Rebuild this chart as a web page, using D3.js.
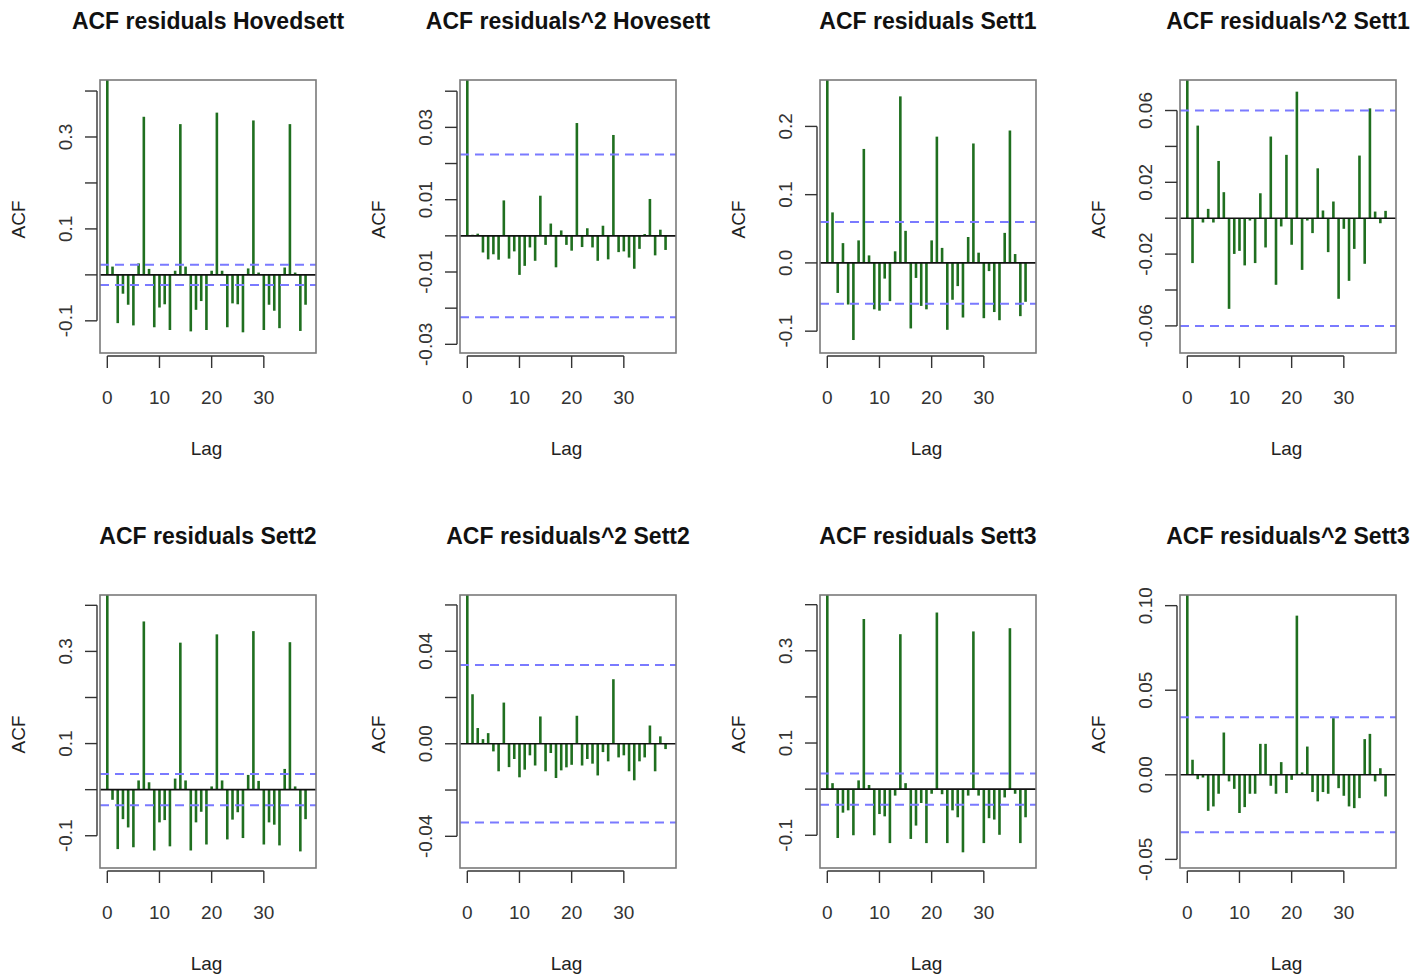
<!DOCTYPE html>
<html>
<head>
<meta charset="utf-8">
<script src="https://cdn.jsdelivr.net/npm/d3@7/dist/d3.min.js"></script>
<style>
  html, body { margin: 0; padding: 0; background: #fff; }
  svg { display: block; }
  text { font-family: "Liberation Sans", Arial, Helvetica, sans-serif; }
</style>
</head>
<body>
<svg id="chart" width="1426" height="977"></svg>
<script>
// ---- Panel titles ----------------------------------------------------------
const titles = [
  "ACF residuals Hovedsett", "ACF residuals^2 Hovesett",
  "ACF residuals Sett1",     "ACF residuals^2 Sett1",
  "ACF residuals Sett2",     "ACF residuals^2 Sett2",
  "ACF residuals Sett3",     "ACF residuals^2 Sett3"
];

// ---- Autocorrelations, lag 0 .. 38 ----------------------------------------
const acfResHovedsett = [1, 0.018, -0.105, -0.041, -0.065, -0.110, 0.025, 0.344, 0.013, -0.114,
  -0.071, -0.064, -0.120, 0.009, 0.328, 0.018, -0.123, -0.076, -0.057, -0.120,
  0.009, 0.353, 0.009, -0.114, -0.062, -0.064, -0.125, 0.014, 0.336, 0.005,
  -0.120, -0.065, -0.078, -0.116, 0.016, 0.328, 0.005, -0.122, -0.065];

const acfSqHovedsett = [1, 0.0003, 0.0006, -0.0046, -0.0065, -0.0051, -0.0066, 0.0098, -0.0063, -0.0043,
  -0.0108, -0.0083, -0.0032, -0.0069, 0.0111, -0.0025, 0.0034, -0.0087, 0.0015, -0.0025,
  -0.0041, 0.0312, -0.0031, 0.0021, -0.0032, -0.0069, 0.0028, -0.0065, 0.0279, -0.0045,
  -0.0043, -0.0060, -0.0091, -0.0036, 0.0005, 0.0102, -0.0054, 0.0017, -0.0039];

const acfResSett1 = [1, 0.074, -0.044, 0.029, -0.061, -0.113, 0.033, 0.167, 0.011, -0.068,
  -0.070, -0.023, -0.056, 0.017, 0.244, 0.047, -0.096, -0.022, -0.063, -0.068,
  0.033, 0.185, 0.022, -0.098, -0.054, -0.034, -0.080, 0.038, 0.175, 0.015,
  -0.081, -0.012, -0.072, -0.084, 0.044, 0.194, 0.013, -0.078, -0.057];

const acfSqSett1 = [1, -0.0250, 0.0516, -0.0024, 0.0052, -0.0024, 0.0319, 0.0145, -0.0505, -0.0199,
  -0.0182, -0.0263, -0.0013, -0.0250, 0.0139, -0.0163, 0.0455, -0.0371, -0.0046, 0.0353,
  -0.0148, 0.0705, -0.0288, -0.0013, -0.0083, 0.0278, 0.0043, -0.0189, 0.0093, -0.0449,
  -0.0059, -0.0349, -0.0171, 0.0349, -0.0254, 0.0612, 0.0037, -0.0028, 0.0041];

const acfResSett2 = [1, -0.022, -0.129, -0.064, -0.082, -0.125, 0.020, 0.365, 0.016, -0.132,
  -0.071, -0.066, -0.123, 0.024, 0.319, 0.020, -0.132, -0.071, -0.048, -0.119,
  0.007, 0.337, 0.020, -0.108, -0.065, -0.049, -0.105, 0.032, 0.344, 0.019,
  -0.119, -0.071, -0.076, -0.121, 0.045, 0.320, 0.007, -0.134, -0.064];

const acfSqSett2 = [1, 0.0214, 0.0068, 0.0020, 0.0046, -0.0033, -0.0119, 0.0178, -0.0101, -0.0066,
  -0.0145, -0.0112, -0.0050, -0.0094, 0.0118, -0.0119, -0.0040, -0.0148, -0.0115, -0.0102,
  -0.0091, 0.0121, -0.0094, -0.0066, -0.0086, -0.0137, -0.0036, -0.0076, 0.0279, -0.0059,
  -0.0050, -0.0119, -0.0158, -0.0076, -0.0059, 0.0079, -0.0119, 0.0032, -0.0023];

const acfResSett3 = [1, 0.013, -0.106, -0.051, -0.046, -0.100, 0.019, 0.369, 0.009, -0.100,
  -0.054, -0.059, -0.117, -0.014, 0.336, 0.013, -0.108, -0.079, -0.030, -0.117,
  -0.010, 0.383, -0.011, -0.117, -0.046, -0.061, -0.137, -0.014, 0.342, -0.014,
  -0.117, -0.063, -0.066, -0.099, -0.018, 0.349, -0.010, -0.117, -0.061];

const acfSqSett3 = [1, 0.0089, -0.0026, -0.0016, -0.0213, -0.0187, -0.0112, 0.0250, -0.0039, -0.0083,
  -0.0226, -0.0191, -0.0112, -0.0112, 0.0183, 0.0183, -0.0065, -0.0112, 0.0075, -0.0108,
  -0.0030, 0.0941, 0.0014, 0.0167, -0.0102, -0.0157, -0.0102, -0.0112, 0.0335, -0.0079,
  -0.0124, -0.0187, -0.0197, -0.0138, 0.0211, 0.0242, -0.0039, 0.0039, -0.0128];

// ---- 95% confidence bounds (+/-) -----------------------------------------
const ciBounds = [0.022, 0.0225, 0.060, 0.060, 0.034, 0.034, 0.034, 0.034];

// ---- Axis ticks --------------------------------------------------------------
const lagTicks = [0, 10, 20, 30];
const yTicksRes  = [-0.1, 0.0, 0.1, 0.2, 0.3, 0.4];
const yLabelsRes = ["-0.1", "", "0.1", "", "0.3", ""];
const yTicksSqH  = [-0.03, -0.02, -0.01, 0.0, 0.01, 0.02, 0.03, 0.04];
const yLabelsSqH = ["-0.03", "", "-0.01", "", "0.01", "", "0.03", ""];
const yTicksS1   = [-0.1, 0.0, 0.1, 0.2];
const yLabelsS1  = ["-0.1", "0.0", "0.1", "0.2"];
const yTicksSq1  = [-0.06, -0.04, -0.02, 0.0, 0.02, 0.04, 0.06];
const yLabelsSq1 = ["-0.06", "", "-0.02", "", "0.02", "", "0.06"];
const yTicksSq2  = [-0.04, -0.02, 0.0, 0.02, 0.04, 0.06];
const yLabelsSq2 = ["-0.04", "", "0.00", "", "0.04", ""];
const yTicksSq3  = [-0.05, 0.0, 0.05, 0.10];
const yLabelsSq3 = ["-0.05", "0.00", "0.05", "0.10"];

// ---- Vertical plotting limits per panel --------------------------------------
const yLimits = [
  [-0.170, 0.424], [-0.0324, 0.0431], [-0.132, 0.268], [-0.0751, 0.077],
  [-0.170, 0.4224], [-0.0537, 0.0643], [-0.171, 0.421], [-0.0551, 0.1063]
];

const series = [acfResHovedsett, acfSqHovedsett, acfResSett1, acfSqSett1,
                acfResSett2, acfSqSett2, acfResSett3, acfSqSett3];
const yTickSets  = [yTicksRes, yTicksSqH, yTicksS1, yTicksSq1, yTicksRes, yTicksSq2, yTicksRes, yTicksSq3];
const yLabelSets = [yLabelsRes, yLabelsSqH, yLabelsS1, yLabelsSq1, yLabelsRes, yLabelsSq2, yLabelsRes, yLabelsSq3];

// ---- Layout --------------------------------------------------------------------
const svg = d3.select("#chart");
const colLeft = [100, 460, 820, 1180];
const rowTop = [80, 595];
const boxW = 216, boxH = 273;
const barColor = "#1f6f1f";
const ciColor = "#7a7aff";
const fontSize = 19;

series.forEach((vals, i) => {
  const col = i % 4, row = Math.floor(i / 4);
  const x0 = colLeft[col], y0 = rowTop[row];
  const g = svg.append("g").attr("transform", `translate(${x0},${y0})`);

  const x = d3.scaleLinear().domain([-1.4, 40]).range([0, boxW]);
  const y = d3.scaleLinear().domain(yLimits[i]).range([boxH, 0]);

  const clipId = "clip" + i;
  g.append("clipPath").attr("id", clipId)
    .append("rect").attr("x", 0).attr("y", 0).attr("width", boxW).attr("height", boxH);

  const plot = g.append("g").attr("clip-path", `url(#${clipId})`);

  // spikes
  plot.selectAll("line.bar").data(vals).join("line")
    .attr("class", "bar")
    .attr("x1", (d, k) => x(k)).attr("x2", (d, k) => x(k))
    .attr("y1", y(0)).attr("y2", d => y(d))
    .attr("stroke", barColor).attr("stroke-width", 2.6);

  // zero line
  plot.append("line")
    .attr("x1", 0).attr("x2", boxW).attr("y1", y(0)).attr("y2", y(0))
    .attr("stroke", "#111").attr("stroke-width", 1.6);

  // confidence bounds
  [ciBounds[i], -ciBounds[i]].forEach(c => {
    plot.append("line")
      .attr("x1", 0).attr("x2", boxW).attr("y1", y(c)).attr("y2", y(c))
      .attr("stroke", ciColor).attr("stroke-width", 2)
      .attr("stroke-dasharray", "9,6");
  });

  // frame
  g.append("rect").attr("x", 0).attr("y", 0).attr("width", boxW).attr("height", boxH)
    .attr("fill", "none").attr("stroke", "#7a7a7a").attr("stroke-width", 1.6);

  // x axis
  const xa = g.append("g").attr("transform", `translate(0,${boxH + 3})`);
  xa.append("line").attr("x1", x(lagTicks[0])).attr("x2", x(lagTicks[lagTicks.length - 1]))
    .attr("stroke", "#333").attr("stroke-width", 1.4);
  lagTicks.forEach(t => {
    xa.append("line").attr("x1", x(t)).attr("x2", x(t)).attr("y1", 0).attr("y2", 12)
      .attr("stroke", "#333").attr("stroke-width", 1.4);
    xa.append("text").attr("x", x(t)).attr("y", 41).attr("dy", "0.35em")
      .attr("text-anchor", "middle").attr("font-size", fontSize).attr("fill", "#333")
      .text(t);
  });
  g.append("text").attr("x", x(lagTicks[0]) + (x(lagTicks[lagTicks.length-1]) - x(lagTicks[0])) / 2 + 21)
    .attr("y", boxH + 95).attr("dy", "0.35em")
    .attr("text-anchor", "middle").attr("font-size", fontSize).attr("fill", "#222")
    .text("Lag");

  // y axis
  const ticks = yTickSets[i], labels = yLabelSets[i];
  const ya = g.append("g").attr("transform", "translate(-3,0)");
  ya.append("line").attr("y1", y(ticks[0])).attr("y2", y(ticks[ticks.length - 1]))
    .attr("stroke", "#333").attr("stroke-width", 1.4);
  ticks.forEach((t, k) => {
    ya.append("line").attr("x1", 0).attr("x2", -12).attr("y1", y(t)).attr("y2", y(t))
      .attr("stroke", "#333").attr("stroke-width", 1.4);
    if (labels[k]) {
      ya.append("text")
        .attr("transform", `translate(-32,${y(t)}) rotate(-90)`)
        .attr("dy", "0.35em").attr("text-anchor", "middle")
        .attr("font-size", fontSize).attr("fill", "#333")
        .text(labels[k]);
    }
  });
  g.append("text")
    .attr("transform", `translate(-82,${boxH / 2 + 3}) rotate(-90)`)
    .attr("dy", "0.35em").attr("text-anchor", "middle")
    .attr("font-size", fontSize).attr("fill", "#222")
    .text("ACF");

  // title
  g.append("text").attr("x", boxW / 2).attr("y", -51)
    .attr("text-anchor", "middle").attr("font-size", 23).attr("font-weight", "bold")
    .attr("fill", "#111")
    .text(titles[i]);
});
</script>
</body>
</html>
